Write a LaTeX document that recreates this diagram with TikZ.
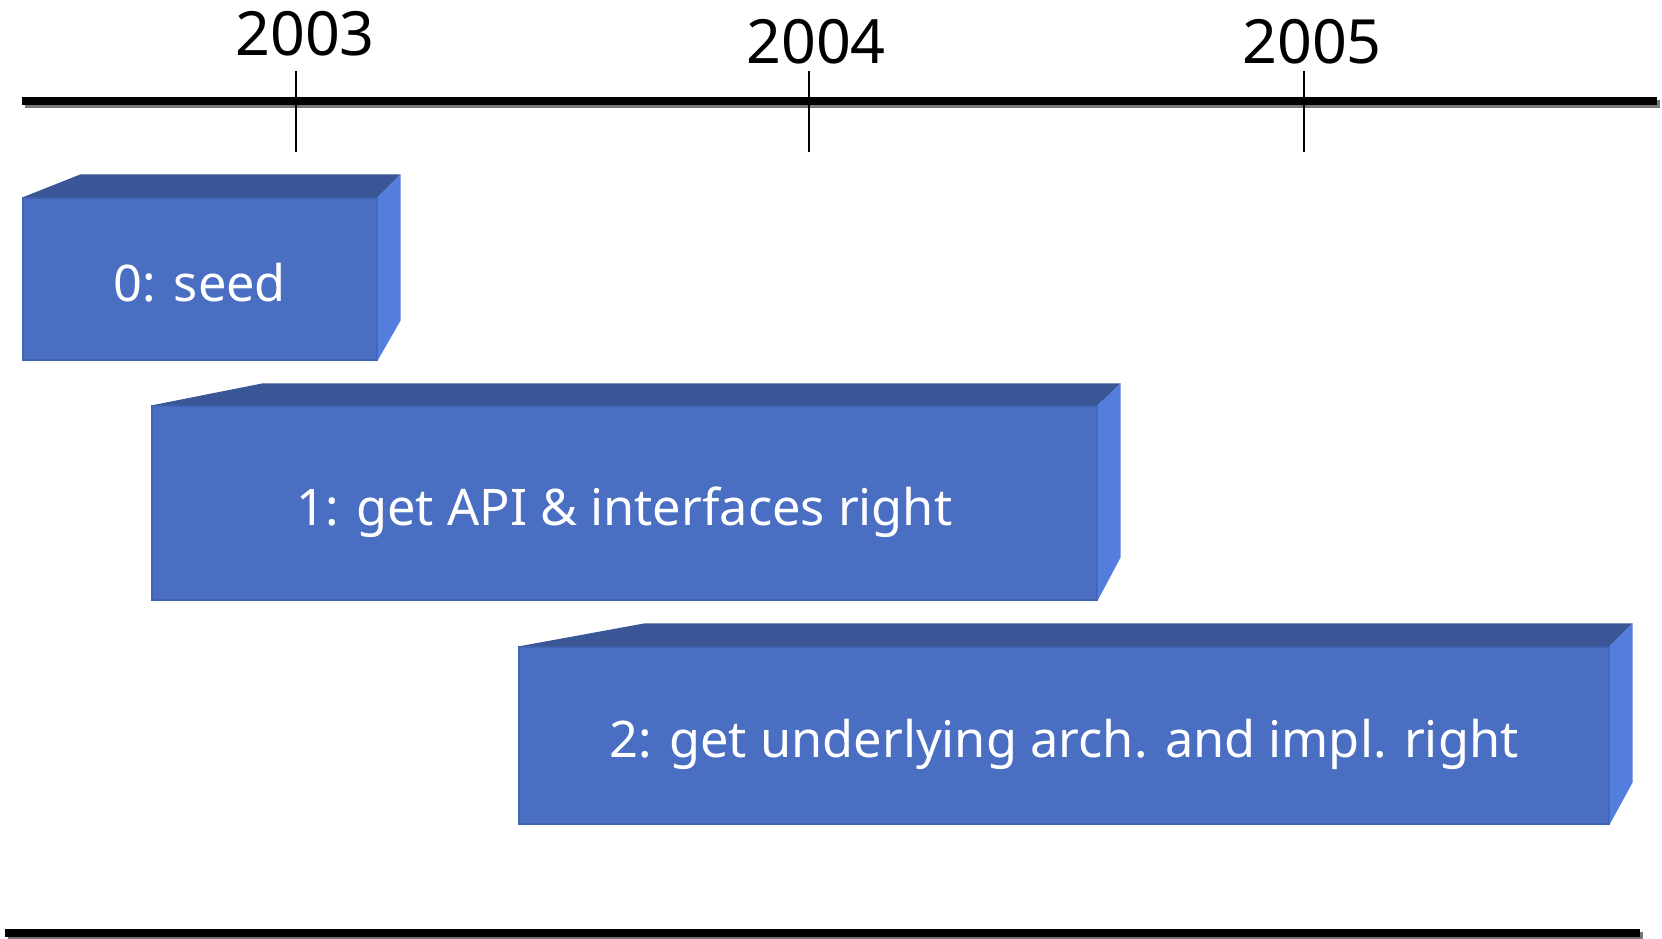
\documentclass[tikz,border=0pt]{standalone}
\usepackage{fontspec}
\setmainfont{Noto Sans}
\definecolor{frontc}{RGB}{74,110,193}
\definecolor{topc}{RGB}{58,86,150}
\definecolor{sidec}{RGB}{84,126,222}
\definecolor{edgec}{RGB}{66,100,180}
\definecolor{shadowc}{RGB}{120,120,120}
\begin{document}
\begin{tikzpicture}[x=1pt,y=-1pt,
  front/.style={fill=frontc,draw=edgec,line width=1.2pt,inner sep=0pt,text=white,
    font=\fontsize{50.5}{60}\selectfont,text height=44pt,text depth=0pt},
  topface/.style={fill=topc},
  sideface/.style={fill=sidec},
  year/.style={font=\fontsize{61}{70}\selectfont,inner sep=0pt},
  tick/.style={line width=1.5pt},
  rule/.style={line width=8pt},
  ruleshadow/.style={line width=8pt,draw=shadowc}]
\useasboundingbox (0,0) rectangle (1662,939);
% timeline
\coordinate (tl) at (22,101);
\coordinate (tr) at (1657,101);
\coordinate (tls) at (25,104);
\coordinate (trs) at (1660,104);
\draw[ruleshadow] (tls) -- (trs);
\draw[rule] (tl) -- (tr);
\coordinate (bl) at (5,933);
\coordinate (br) at (1640,933);
\coordinate (bls) at (8,936);
\coordinate (brs) at (1643,936);
\draw[ruleshadow] (bls) -- (brs);
\draw[rule] (bl) -- (br);
% ticks and years
\coordinate (t3a) at (296,71); \coordinate (t3b) at (296,152);
\coordinate (t4a) at (809,71); \coordinate (t4b) at (809,152);
\coordinate (t5a) at (1304,71); \coordinate (t5b) at (1304,152);
\draw[tick] (t3a) -- (t3b);
\draw[tick] (t4a) -- (t4b);
\draw[tick] (t5a) -- (t5b);
\node[year] (y3) at (305,34) {2003};
\node[year] (y4) at (816,42) {2004};
\node[year] (y5) at (1312,42) {2005};
% box 0
\node[front,minimum width=354pt,minimum height=162pt] (b0) at (200,279) {0: seed};
\fill[topface] (b0.north west) -- ++(58,-23) -- ([xshift=23pt,yshift=23pt]b0.north east) -- (b0.north east) -- cycle;
\fill[sideface] (b0.north east) -- ++(23,-23) -- ++(0,146) -- (b0.south east) -- cycle;
% box 1
\node[front,minimum width=945pt,minimum height=194pt] (b1) at (624.5,503) {1: get API \& interfaces right};
\fill[topface] (b1.north west) -- ++(111,-22) -- ([xshift=23pt,yshift=22pt]b1.north east) -- (b1.north east) -- cycle;
\fill[sideface] (b1.north east) -- ++(23,-22) -- ++(0,174) -- (b1.south east) -- cycle;
% box 2
\node[front,minimum width=1090pt,minimum height=177pt] (b2) at (1064,735.5) {2: get underlying arch. and impl. right};
\fill[topface] (b2.north west) -- ++(126,-23) -- ([xshift=23pt,yshift=23pt]b2.north east) -- (b2.north east) -- cycle;
\fill[sideface] (b2.north east) -- ++(23,-23) -- ++(0,159) -- (b2.south east) -- cycle;
\end{tikzpicture}
\end{document}
